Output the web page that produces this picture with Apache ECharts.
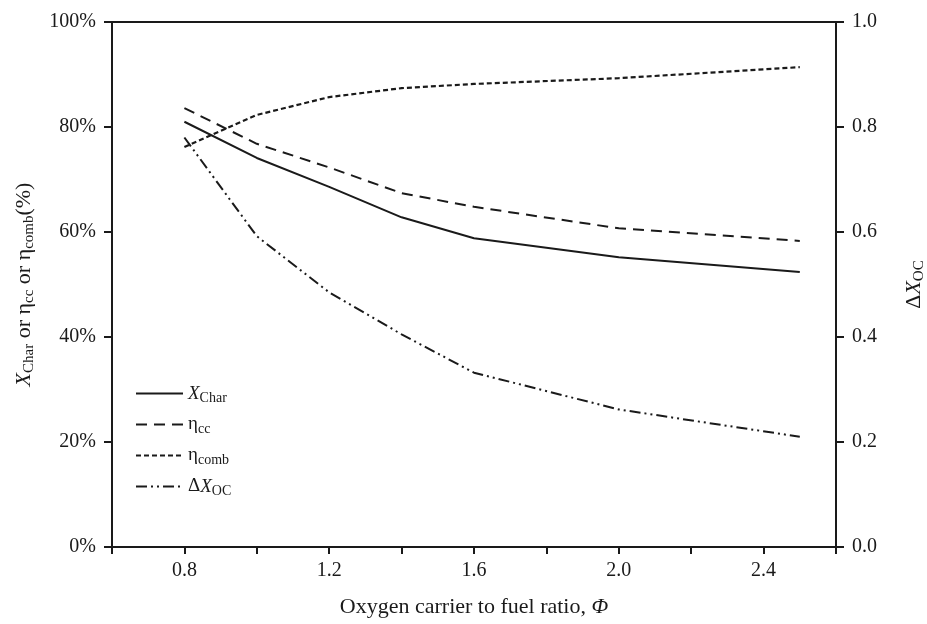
<!DOCTYPE html>
<html>
<head>
<meta charset="utf-8">
<script src="https://cdn.jsdelivr.net/npm/echarts@6/dist/echarts.min.js"></script>
<style>html,body{margin:0;padding:0;background:#fff;}#c{width:927px;height:624px;}</style>
</head>
<body>
<div id="c"></div>
<script>
// Data
var ratios = [0.8, 1.0, 1.2, 1.4, 1.6, 2.0, 2.5];
var xChar = [81.0, 74.1, 68.6, 62.8, 58.8, 55.2, 52.4];
var etaCC = [83.6, 76.8, 72.3, 67.4, 64.8, 60.7, 58.3];
var etaComb = [76.2, 82.3, 85.7, 87.4, 88.2, 89.3, 91.4];
var deltaXOC = [0.78, 0.592, 0.485, 0.405, 0.332, 0.262, 0.21];
var xTickLabels = ['0.8', '1.2', '1.6', '2.0', '2.4'];

function pairs(ys) { return ratios.map(function (x, i) { return [x, ys[i]]; }); }

var FONT = '"Liberation Serif", "DejaVu Serif", serif';
var INK = '#1a1a1a';

var chart = echarts.init(document.getElementById('c'));
var richLegend = {
  i: { fontFamily: FONT, fontStyle: 'italic', fontSize: 19, color: INK },
  n: { fontFamily: FONT, fontSize: 19, color: INK },
  s: { fontFamily: FONT, fontSize: 14, color: INK, padding: [9, 0, 0, 0] }
};
var legendNames = {
  'XChar': '{i|X}{s|Char}',
  'etacc': '{n|η}{s|cc}',
  'etacomb': '{n|η}{s|comb}',
  'dXOC': '{n|Δ}{i|X}{s|OC}'
};

function line(name, data, yIdx, type, width) {
  return {
    name: name, type: 'line', data: data, yAxisIndex: yIdx,
    symbol: 'none', showSymbol: false, smooth: false,
    lineStyle: { color: INK, width: width || 2, type: type },
    itemStyle: { color: INK }
  };
}
var nameRich = {
  i: { fontFamily: FONT, fontSize: 22, fontStyle: 'italic', color: INK },
  n: { fontFamily: FONT, fontSize: 22, color: INK },
  s: { fontFamily: FONT, fontSize: 15, color: INK, padding: [10, 0, 0, 0] }
};

chart.setOption({
  backgroundColor: '#fff',
  animation: false,
  grid: { left: 112, right: 91, top: 22, bottom: 77, outerBoundsMode: 'none', containLabel: false,
          show: true, borderColor: INK, borderWidth: 2, backgroundColor: 'transparent' },
  legend: {
    orient: 'vertical', left: 135, top: 384, itemWidth: 47, itemHeight: 10, itemGap: 10, padding: 0,
    data: ['XChar', 'etacc', 'etacomb', 'dXOC'],
    itemStyle: { opacity: 0 },
    formatter: function (n) { return legendNames[n]; },
    textStyle: { rich: richLegend, fontFamily: FONT, fontSize: 19, color: INK }
  },
  xAxis: {
    type: 'value', min: 0.6, max: 2.6, interval: 0.2,
    name: '{n|Oxygen carrier to fuel ratio, }{i|Φ}',
    nameLocation: 'middle', nameGap: 49,
    nameTextStyle: { rich: {
      n: { fontFamily: FONT, fontSize: 22, color: INK },
      i: { fontFamily: FONT, fontSize: 22, fontStyle: 'italic', color: INK }
    } },
    axisLine: { show: true, onZero: false, lineStyle: { color: INK, width: 2 } },
    axisTick: { show: true, inside: false, length: 7, lineStyle: { color: INK, width: 2 } },
    splitLine: { show: false },
    axisLabel: {
      margin: 14, fontFamily: FONT, fontSize: 20, color: INK,
      formatter: function (v) {
        var s = v.toFixed(1);
        return xTickLabels.indexOf(s) >= 0 ? s : '';
      }
    }
  },
  yAxis: [
    {
      type: 'value', min: 0, max: 100, interval: 20, position: 'left',
      name: '{i|X}{s|Char}{n| or η}{s|cc}{n| or η}{s|comb}{n|(%)}',
      nameLocation: 'middle', nameGap: 75, nameRotate: 90,
      nameTextStyle: { rich: nameRich },
      axisLine: { show: true, lineStyle: { color: INK, width: 2 } },
      axisTick: { show: true, length: 8, lineStyle: { color: INK, width: 2 } },
      splitLine: { show: false },
      axisLabel: { margin: 16, fontFamily: FONT, fontSize: 20, color: INK, formatter: '{value}%' }
    },
    {
      type: 'value', min: 0, max: 1, interval: 0.2, position: 'right',
      name: '{n|Δ}{i|X}{s|OC}',
      nameLocation: 'middle', nameGap: 66, nameRotate: 90,
      nameTextStyle: { rich: nameRich },
      axisLine: { show: true, lineStyle: { color: INK, width: 2 } },
      axisTick: { show: true, length: 8, lineStyle: { color: INK, width: 2 } },
      splitLine: { show: false },
      axisLabel: { margin: 16, fontFamily: FONT, fontSize: 20, color: INK, formatter: function (v) { return v.toFixed(1); } }
    }
  ],
  series: [
    line('XChar', pairs(xChar), 0, 'solid', 2),
    line('etacc', pairs(etaCC), 0, [11, 7], 2),
    line('etacomb', pairs(etaComb), 0, [5, 3], 2.2),
    line('dXOC', pairs(deltaXOC), 1, [11, 4, 2, 4, 2, 4], 2)
  ]
});
</script>
</body>
</html>
